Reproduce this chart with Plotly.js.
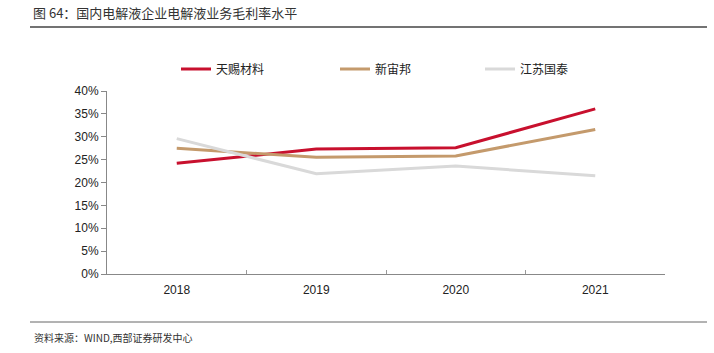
<!DOCTYPE html>
<html>
<head>
<meta charset="utf-8">
<script src="https://cdn.plot.ly/plotly-3.0.1.min.js"></script>
<style>html,body{margin:0;padding:0;background:#fff;}#chart{width:714px;height:353px;}</style>
</head>
<body>
<div id="chart"></div>
<script>
const years = ['2018', '2019', '2020', '2021'];
const tianci = [24.2, 27.3, 27.6, 36.1];
const xinzhoubang = [27.5, 25.5, 25.8, 31.6];
const jiangsuguotai = [29.6, 21.9, 23.6, 21.5];
const seriesNames = ['天赐材料', '新宙邦', '江苏国泰'];
const yTicks = [0, 5, 10, 15, 20, 25, 30, 35, 40];

const W = 714, H = 353;
const L = 107, R = 665, T = 91, B = 274;
const px = x => (x - L) / (R - L);
const py = y => (B - y) / (B - T);

const cjk = '"Noto Sans CJK SC", "Noto Sans", sans-serif';
const latin = '"Liberation Sans", Arial, sans-serif';

const colors = ['#C8102E', '#C49A6C', '#D9D9D9'];
const legendIds = ['legend', 'legend2', 'legend3'];
const legendX = [176, 335, 480];
const data = [tianci, xinzhoubang, jiangsuguotai].map((v, i) => ({
  x: years, y: v, type: 'scatter', mode: 'lines', name: seriesNames[i],
  line: {color: colors[i], width: 3}, legend: legendIds[i]
}));

const layout = {
  width: W, height: H,
  margin: {l: L, r: W - R, t: T, b: H - B, pad: 0},
  paper_bgcolor: '#fff', plot_bgcolor: '#fff',
  showlegend: true,
  xaxis: {
    type: 'category', range: [-0.5, 3.5], tickson: 'boundaries',
    ticks: 'inside', ticklen: 4, tickcolor: '#999', tickwidth: 1,
    showline: true, linecolor: '#888', linewidth: 1,
    showgrid: false, zeroline: false, ticklabelstandoff: 5,
    tickfont: {family: latin, size: 12, color: '#222'}
  },
  yaxis: {
    range: [0, 40], tickvals: yTicks, ticktext: yTicks.map(v => v + '%'),
    ticks: 'outside', ticklen: 5, tickcolor: '#888',
    showline: true, linecolor: '#888', linewidth: 1,
    showgrid: false, zeroline: false,
    tickfont: {family: latin, size: 12, color: '#222'}
  },
  title: {
    text: '图 64：国内电解液企业电解液业务毛利率水平',
    xref: 'container', yref: 'container',
    x: 33 / W, xanchor: 'left', y: 1 - 13 / H, yanchor: 'middle',
    font: {family: cjk, size: 13, color: '#333'}
  },
  shapes: [
    {type: 'line', xref: 'paper', yref: 'paper', x0: px(30), x1: px(707), y0: py(27), y1: py(27),
     line: {color: '#444', width: 1.5}},
    {type: 'line', xref: 'paper', yref: 'paper', x0: px(30), x1: px(707), y0: py(322), y1: py(322),
     line: {color: '#666', width: 1}}
  ],
  annotations: [
    {text: '资料来源：WIND,西部证券研发中心', xref: 'paper', yref: 'paper',
     x: px(32), xanchor: 'left', y: py(337), yanchor: 'middle', showarrow: false,
     font: {family: cjk, size: 10, color: '#333'}}
  ]
};
legendIds.forEach((id, i) => {
  layout[id] = {
    orientation: 'h', x: px(legendX[i]), xanchor: 'left', y: py(69), yanchor: 'middle',
    itemwidth: 30, font: {family: cjk, size: 12, color: '#222'},
    bgcolor: 'rgba(0,0,0,0)'
  };
});

Plotly.newPlot('chart', data, layout, {displayModeBar: false, staticPlot: true});
</script>
</body>
</html>
